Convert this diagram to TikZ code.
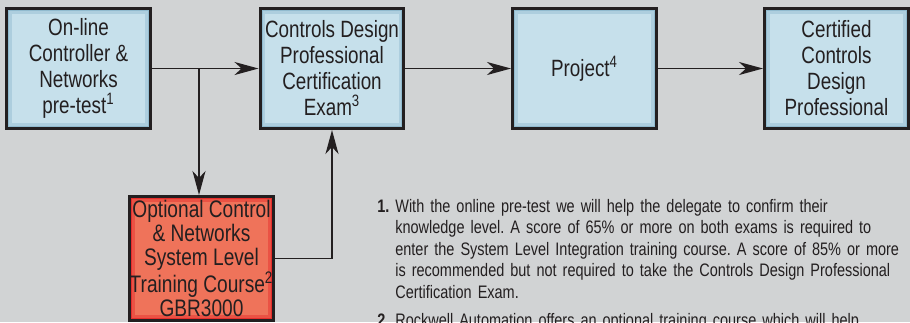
\documentclass[tikz,border=0pt]{standalone}
\usepackage{fontspec}
\setmainfont{Liberation Sans}[FakeStretch=0.8]
\usetikzlibrary{arrows.meta}

\definecolor{bggray}{HTML}{D1D3D4}
\definecolor{boxblue}{HTML}{C6E0EB}
\definecolor{edgeblue}{HTML}{7FAFC6}
\definecolor{boxred}{HTML}{EF735A}
\definecolor{edgered}{HTML}{E3161C}
\definecolor{inkgray}{HTML}{231F20}

\begin{document}
\begin{tikzpicture}[x=0.02cm,y=-0.02cm,>={Stealth[length=4.8mm,width=2.6mm,inset=1.4mm]},
  every node/.style={text=inkgray}]

  \tikzstyle{stage}=[rectangle,draw=inkgray,line width=1.7pt,minimum width=2.88cm,
    minimum height=2.4cm,inner sep=0pt,align=center,
    font=\fontsize{13.4}{14.8}\selectfont]
  \tikzstyle{blue stage}=[stage,fill=boxblue,path picture={
      \draw[edgeblue,line width=6pt,opacity=0.35] (path picture bounding box.south west) rectangle (path picture bounding box.north east);
      \draw[edgeblue,line width=3pt,opacity=0.6] (path picture bounding box.south west) rectangle (path picture bounding box.north east);}]
  \tikzstyle{red stage}=[stage,fill=boxred,minimum height=2.48cm,
    font=\fontsize{13.6}{13.6}\selectfont,path picture={
      \draw[edgered,line width=6pt,opacity=0.35] (path picture bounding box.south west) rectangle (path picture bounding box.north east);
      \draw[edgered,line width=3pt,opacity=0.6] (path picture bounding box.south west) rectangle (path picture bounding box.north east);}]
  \tikzstyle{flow}=[->,draw=inkgray,line width=1.1pt]
  \tikzstyle{note}=[anchor=north west,text width=11.5cm,align=left,inner sep=0pt,
    font=\fontsize{10.3}{12.2}\selectfont]

  \useasboundingbox (0,0) rectangle (910,322);
  \clip (0,0) rectangle (910,322);
  \fill[bggray] (0,0) rectangle (910,322);

  \path (78.5,68.5) node[blue stage] (pretest) {On-line\\Controller \&\\Networks\\pre-test\textsuperscript{1}}
       ++(253.5,0)  node[blue stage] (exam)    {Controls Design\\Professional\\Certification\\Exam\textsuperscript{3}}
       ++(252.5,0)  node[blue stage] (project) {Project\textsuperscript{4}}
       ++(252,0)    node[blue stage] (certified) {Certified\\Controls\\Design\\Professional};

  \node[red stage] (course) at (201.5,258.5)
    {Optional Control\\\& Networks\\System Level\\Training Course\textsuperscript{2}\\GBR3000};

  \coordinate (split) at (199,68.5);

  \draw[flow] (pretest) -- (exam);
  \draw[flow] (split) -- (split |- course.north);
  \draw[flow] (course.east) -| (exam.south);
  \draw[flow] (exam) -- (project);
  \draw[flow] (project) -- (certified);

  \node[note] (notes) at (377,199) {\frenchspacing
    \hangindent=0.36cm\hangafter=1\noindent\makebox[0.36cm][l]{\bfseries 1.}With the online pre-test we will help the delegate to confirm their\newline
    knowledge level. A score of 65\% or more on both exams is required to\newline
    enter the System Level Integration training course. A score of 85\% or more\newline
    is recommended but not required to take the Controls Design Professional\newline
    Certification Exam.\par
    \vspace{0.13cm}
    \hangindent=0.36cm\hangafter=1\noindent\makebox[0.36cm][l]{\bfseries 2.}Rockwell Automation offers an optional training course which will help\par};

\end{tikzpicture}
\end{document}
